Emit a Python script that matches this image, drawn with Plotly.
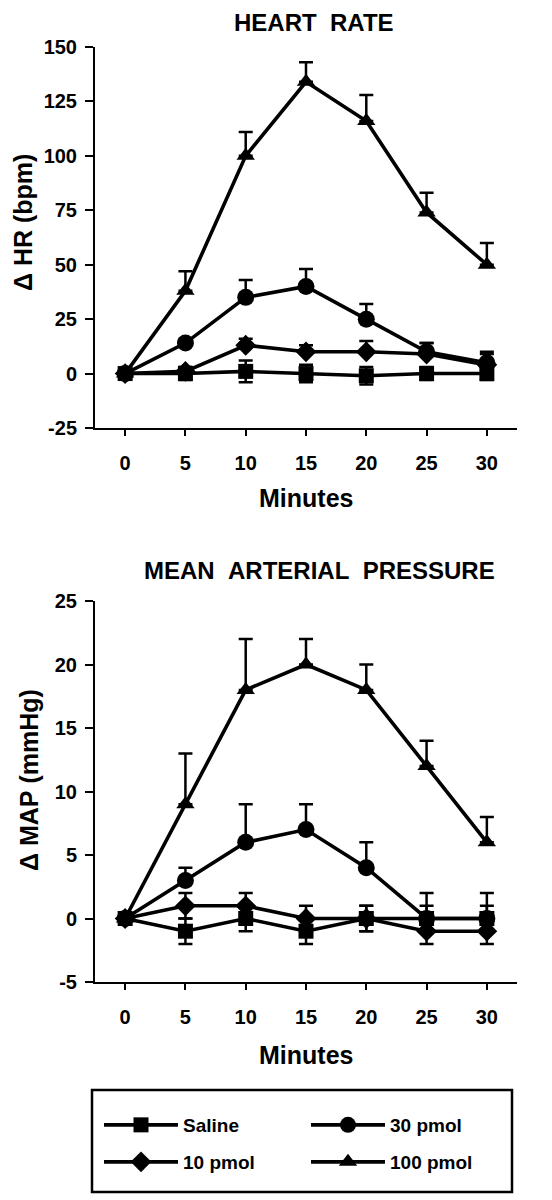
import plotly.graph_objects as go

minutes = [0, 5, 10, 15, 20, 25, 30]

# Heart rate (delta bpm)
hr_saline = [0, 0, 1, 0, -1, 0, 0]
hr_saline_err = [2, 3, 5, 4, 4, 3, 3]
hr_10 = [0, 1, 13, 10, 10, 9, 4]
hr_10_err = [0, 2, 3, 3, 5, 5, 5]
hr_30 = [0, 14, 35, 40, 25, 10, 5]
hr_30_err = [0, 2, 8, 8, 7, 4, 5]
hr_100 = [0, 38, 100, 134, 116, 74, 50]
hr_100_err = [0, 9, 11, 9, 12, 9, 10]

# Mean arterial pressure (delta mmHg)
map_saline = [0, -1, 0, -1, 0, 0, 0]
map_saline_err = [0, 1, 1, 1, 1, 1, 1]
map_10 = [0, 1, 1, 0, 0, -1, -1]
map_10_err = [0, 1, 1, 1, 1, 1, 1]
map_30 = [0, 3, 6, 7, 4, 0, 0]
map_30_err = [0, 1, 3, 2, 2, 2, 2]
map_100 = [0, 9, 18, 20, 18, 12, 6]
map_100_err = [0, 4, 4, 2, 2, 2, 2]

series_names = ["Saline", "10 pmol", "30 pmol", "100 pmol"]
symbols = ["square", "diamond", "circle", "triangle-up"]
legend_groups = ["legend", "legend2", "legend", "legend2"]
legend_ranks = [1, 1, 2, 2]

hr_vals = [hr_saline, hr_10, hr_30, hr_100]
hr_errs = [hr_saline_err, hr_10_err, hr_30_err, hr_100_err]
map_vals = [map_saline, map_10, map_30, map_100]
map_errs = [map_saline_err, map_10_err, map_30_err, map_100_err]

hr_ticks = [-25, 0, 25, 50, 75, 100, 125, 150]
map_ticks = [-5, 0, 5, 10, 15, 20, 25]
x_ticks = [0, 5, 10, 15, 20, 25, 30]

FONT = "Liberation Sans, Arial, sans-serif"
OFF = 8  # page body margin
W, H = 552 - OFF, 1200 - OFF


def px(xp):
    return (xp - OFF) / W


def py(yp):
    return 1 - (yp - OFF) / H


fig = go.Figure()

marker_sizes = {"square": 15, "diamond": 16, "circle": 17, "triangle-up": 16}

for idx in [3, 2, 1, 0]:
    name = series_names[idx]
    sym = symbols[idx]
    hr_minus = [e if idx == 0 else 0 for e in hr_errs[idx]]
    fig.add_trace(go.Scatter(
        x=minutes, y=hr_vals[idx], name=name, mode="lines+markers",
        xaxis="x", yaxis="y", legend=legend_groups[idx], legendrank=legend_ranks[idx],
        line=dict(color="black", width=3.6),
        marker=dict(symbol=sym, size=marker_sizes[sym], color="black"),
        error_y=dict(type="data", array=hr_errs[idx], arrayminus=hr_minus,
                     symmetric=False, color="black", thickness=2.5, width=7),
        showlegend=True, cliponaxis=False,
    ))
    map_minus = [e if idx in (0, 1) else 0 for e in map_errs[idx]]
    fig.add_trace(go.Scatter(
        x=minutes, y=map_vals[idx], name=name, mode="lines+markers",
        xaxis="x2", yaxis="y2",
        line=dict(color="black", width=3.6),
        marker=dict(symbol=sym, size=marker_sizes[sym], color="black"),
        error_y=dict(type="data", array=map_errs[idx], arrayminus=map_minus,
                     symmetric=False, color="black", thickness=2.5, width=7),
        showlegend=False, cliponaxis=False,
    ))

xdom = [px(95), px(517)]
top_dom = [py(428), py(47)]
bot_dom = [py(982), py(601)]

axis_common = dict(
    showline=True, linecolor="black", linewidth=2, ticks="outside",
    tickcolor="black", tickwidth=2, showgrid=False, zeroline=False,
    automargin=False,
    tickfont=dict(family=FONT, size=20, color="black", weight="bold"),
)

legend_common = dict(
    orientation="h", xanchor="left", yanchor="middle",
    entrywidth=118, entrywidthmode="pixels", itemwidth=74,
    borderwidth=0, bgcolor="rgba(0,0,0,0)",
    font=dict(family=FONT, size=19, color="black", weight="bold"),
    traceorder="normal",
)

fig.update_layout(
    width=W, height=H, margin=dict(l=0, r=0, t=0, b=0, autoexpand=False),
    paper_bgcolor="white", plot_bgcolor="white",
    xaxis=dict(domain=xdom, anchor="y", range=[-2.5, 32.5], tickvals=x_ticks,
               ticktext=[str(v) for v in x_ticks],
               ticklen=6, ticklabelstandoff=10, **axis_common),
    yaxis=dict(domain=top_dom, anchor="x", range=[-25, 150], tickvals=hr_ticks,
               ticktext=[str(v) for v in hr_ticks],
               ticklen=8, ticklabelstandoff=4, **axis_common),
    xaxis2=dict(domain=xdom, anchor="y2", range=[-2.5, 32.5], tickvals=x_ticks,
                ticktext=[str(v) for v in x_ticks],
                ticklen=6, ticklabelstandoff=10, **axis_common),
    yaxis2=dict(domain=bot_dom, anchor="x2", range=[-5, 25], tickvals=map_ticks,
                ticktext=[str(v) for v in map_ticks],
                ticklen=8, ticklabelstandoff=4, **axis_common),
    legend=dict(x=px(99), y=py(1125), **legend_common),
    legend2=dict(x=px(99), y=py(1162), **legend_common),
    showlegend=True,
    shapes=[dict(type="rect", xref="paper", yref="paper",
                 x0=px(92), x1=px(512), y0=py(1192), y1=py(1090),
                 line=dict(color="black", width=2.5), fillcolor="rgba(0,0,0,0)")],
)

title_font = dict(family=FONT, size=24, color="black", weight="bold")
label_font = dict(family=FONT, size=25, color="black", weight="bold")
ylabel_font = dict(family=FONT, size=25, color="black", weight="bold")

annotations = [
    dict(text="HEART\u00a0\u00a0RATE", x=px(314), y=1, yanchor="top", xanchor="center",
         borderpad=0, font=title_font),
    dict(text="MEAN\u00a0\u00a0ARTERIAL\u00a0\u00a0PRESSURE", x=px(319), y=py(570),
         yanchor="middle", xanchor="center", font=title_font),
    dict(text="Minutes", x=px(306), y=py(498), yanchor="middle", xanchor="center", font=label_font),
    dict(text="Minutes", x=px(306), y=py(1055), yanchor="middle", xanchor="center", font=label_font),
    dict(text="\u0394\u00a0HR\u00a0(bpm)", x=0, y=py(223), xanchor="left", yanchor="middle",
         borderpad=0, font=ylabel_font, textangle=-90),
    dict(text="\u0394\u00a0MAP\u00a0(mmHg)", x=px(29), y=py(780), xanchor="center", yanchor="middle",
         font=ylabel_font, textangle=-90),
]
for a in annotations:
    a.update(xref="paper", yref="paper", showarrow=False)
fig.update_layout(annotations=annotations)

fig.write_html("out.html")
